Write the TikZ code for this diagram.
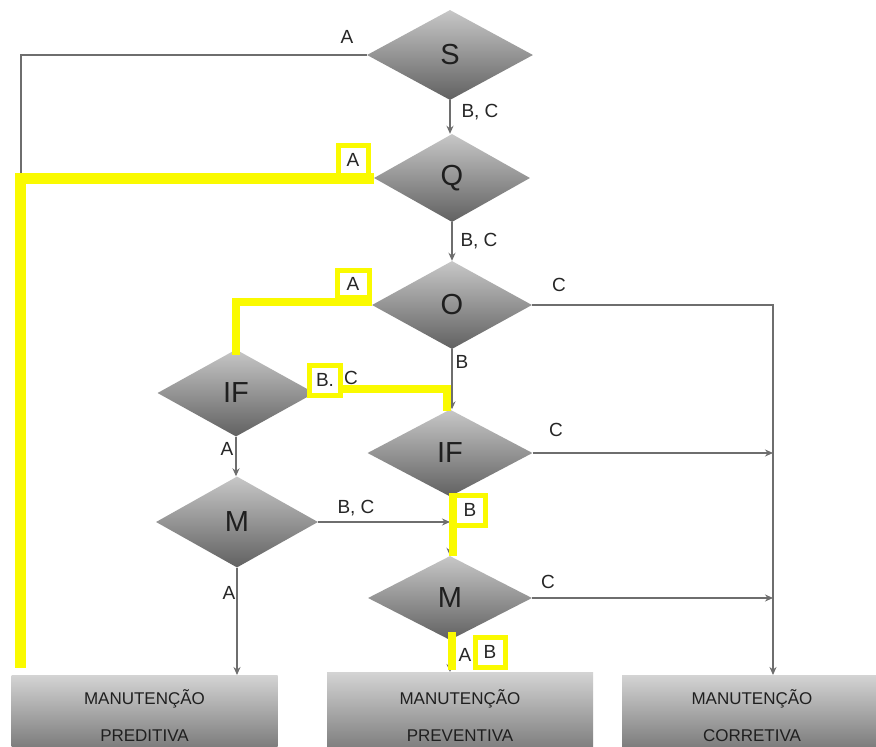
\documentclass[tikz,border=0pt]{standalone}
\usepackage{fontspec}
\setmainfont{Liberation Sans}
\usetikzlibrary{shapes.geometric,arrows.meta}
\definecolor{hl}{RGB}{250,250,0}
\definecolor{ln}{RGB}{110,110,110}
\begin{document}
\begin{tikzpicture}[x=1pt,y=-1pt,
  dia/.style={diamond, inner sep=0pt, top color=black!22, bottom color=black!62, draw=none, font=\fontsize{29}{29}\selectfont, text=black!88},
  box/.style={rectangle, inner sep=0pt, anchor=north, top color=black!17, bottom color=black!55, font=\fontsize{17}{37}\selectfont, text=black!88, align=center},
  con/.style={draw=ln, line width=1.9pt},
  arr/.style={con, -{Stealth[length=8pt,width=7pt]}},
  hlb/.style={draw=hl, line width=11pt},
  hlm/.style={draw=hl, line width=8pt},
  lab/.style={font=\fontsize{19}{19}\selectfont, text=black!85, inner sep=0pt},
  hbox/.style={draw=hl, line width=5pt, fill=white, inner sep=0pt, font=\fontsize{19}{19}\selectfont, text=black!85}
]
\clip (0,0) rectangle (876,747);
\fill[white] (0,0) rectangle (876,747);

% decision diamonds
\node[dia, minimum width=166pt, minimum height=90pt] (s) at (450,55) {S};
\node[dia, minimum width=156pt, minimum height=88pt] (q) at (452,178) {Q};
\node[dia, minimum width=160pt, minimum height=88pt] (o) at (452,305) {O};
\node[dia, minimum width=157pt, minimum height=87pt] (ifl) at (236,393) {IF};
\node[dia, minimum width=165pt, minimum height=87pt] (ifr) at (450,453) {IF};
\node[dia, minimum width=162pt, minimum height=91pt] (ml) at (237,522) {M};
\node[dia, minimum width=164pt, minimum height=84pt] (mr) at (450,598) {M};

% result boxes
\node[box, minimum width=266pt, minimum height=80pt] (b1) at (144.5,675) {MANUTENÇÃO\\PREDITIVA};
\node[box, minimum width=266pt, minimum height=86pt] (b2) at (460,672) {MANUTENÇÃO\\PREVENTIVA};
\node[box, minimum width=260pt, minimum height=80pt] (b3) at (752,675) {MANUTENÇÃO\\CORRETIVA};

\coordinate (lx) at (21,0);
\coordinate (cx) at (773,0);
\coordinate (yb) at (20,668);

% grey connectors
\draw[con] (s.west) -| (lx |- q.west);
\draw[arr] (s.south) -- (s.south |- q.north);
\draw[arr] (q.south) -- (q.south |- o.north);
\draw[arr] (o.south) -- (o.south |- ifr.north);
\draw[arr] (o.east) -- (cx |- o.east) -- (cx |- b3.north);
\draw[arr] (ifr.east) -- (cx |- ifr.east);
\draw[arr] (mr.east) -- (cx |- mr.east);
\draw[arr] (ifr.south) -- (mr.north);
\draw[arr] (mr.south) -- (mr.south |- b2.north);
\draw[arr] (ifl.south) -- (ifl.south |- ml.north);
\draw[arr] (ml.east) -- (ml.east -| ifr.south);
\draw[arr] (ml.south) -- (ml.south |- b1.north);

% yellow highlights
\draw[hlb] (q.west) -| (yb);
\draw[hlm] ([yshift=3pt]o.west) -| ([yshift=-6pt]ifl.north);
\draw[hlm] ([yshift=4pt]ifl.east) -| ([xshift=-3pt,yshift=-2pt]ifr.north);
\draw[hlm] ([xshift=3pt,yshift=4pt]ifr.south) -- ([xshift=3pt]mr.north);
\draw[hlm] ([xshift=2pt,yshift=8pt]mr.south) -- ([xshift=2pt,yshift=2pt]mr.south |- b2.north);

% highlighted labels
\node[hbox, minimum width=30pt, minimum height=30pt] (hq) at (353,160) {A};
\node[hbox, minimum width=32pt, minimum height=27pt] (ho) at (353,284) {A};
\node[hbox, minimum width=31pt, minimum height=30pt] (hf) at (325,380) {B.};
\node[hbox, minimum width=31pt, minimum height=30pt] (hi) at (470,510) {B};
\node[hbox, minimum width=30pt, minimum height=30pt] (hm) at (490,652) {B};

% plain labels
\node[lab] (l1) at (347,37) {A};
\node[lab] (l2) at (480,112) {B, C};
\node[lab] (l3) at (479,241) {B, C};
\node[lab] (l4) at (559,285) {C};
\node[lab] (l5) at (462,362) {B};
\node[lab] (l6) at (351,378) {C};
\node[lab] (l7) at (556,430) {C};
\node[lab] (l8) at (227,449) {A};
\node[lab] (l9) at (356,508) {B, C};
\node[lab] (l10) at (229,593) {A};
\node[lab] (l11) at (548,582) {C};
\node[lab] (l12) at (465,655) {A};
\end{tikzpicture}
\end{document}
